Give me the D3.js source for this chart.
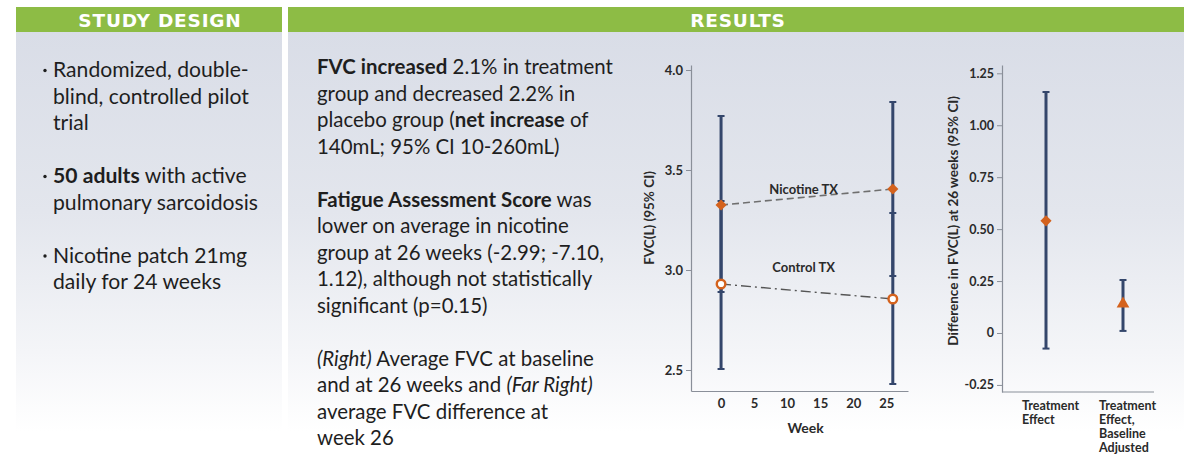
<!DOCTYPE html>
<html><head><meta charset="utf-8">
<script src="https://cdn.jsdelivr.net/npm/d3@7"></script>
<style>
html,body{margin:0;padding:0;background:#fff;}
svg{display:block;}
</style></head>
<body>
<svg id="c" width="1184" height="454"></svg>
<script>
// ---------- DATA ----------
const headers = ["STUDY DESIGN", "RESULTS"];
const designBullets = [
  [[["Randomized, double-", "n"]], [["blind, controlled pilot", "n"]], [["trial", "n"]]],
  [[["50 adults", "b"], [" with active", "n"]], [["pulmonary sarcoidosis", "n"]]],
  [[["Nicotine patch 21mg", "n"]], [["daily for 24 weeks", "n"]]]
];
const resultParas = [
  [[["FVC increased", "b"], [" 2.1% in treatment", "n"]],
   [["group and decreased 2.2% in", "n"]],
   [["placebo group (", "n"], ["net increase", "b"], [" of", "n"]],
   [["140mL; 95% CI 10-260mL)", "n"]]],
  [[["Fatigue Assessment Score", "b"], [" was", "n"]],
   [["lower on average in nicotine", "n"]],
   [["group at 26 weeks (-2.99; -7.10,", "n"]],
   [["1.12), although not statistically", "n"]],
   [["significant (p=0.15)", "n"]]],
  [[["(Right)", "i"], [" Average FVC at baseline", "n"]],
   [["and at 26 weeks and ", "n"], ["(Far Right)", "i"]],
   [["average FVC difference at", "n"]],
   [["week 26", "n"]]]
];

const weeks = [0, 26];
const nicotineMean = [3.325, 3.405];
const nicotineLo = [2.89, 2.97];
const nicotineHi = [3.77, 3.84];
const controlMean = [2.93, 2.855];
const controlLo = [2.505, 2.43];
const controlHi = [3.345, 3.285];
const seriesNames = ["Nicotine TX", "Control TX"];
const fvcTicks = [2.5, 3.0, 3.5, 4.0];
const fvcTickLabels = ["2.5", "3.0", "3.5", "4.0"];
const weekTicks = [0, 5, 10, 15, 20, 25];
const fvcYTitle = "FVC(L) (95% CI)";
const fvcXTitle = "Week";

const diffCats = ["Treatment Effect", "Treatment Effect, Baseline Adjusted"];
const diffCatLines = [["Treatment", "Effect"], ["Treatment", "Effect,", "Baseline", "Adjusted"]];
const diffMean = [0.54, 0.14];
const diffLo = [-0.075, 0.01];
const diffHi = [1.16, 0.255];
const diffTicks = [-0.25, 0, 0.25, 0.5, 0.75, 1.0, 1.25];
const diffTickLabels = ["-0.25", "0", "0.25", "0.50", "0.75", "1.00", "1.25"];
const diffYTitle = "Difference in FVC(L) at 26 weeks (95% CI)";

// ---------- STYLE ----------
const GREEN = "#8dbc45";
const NAVY = "#34466b";
const ORANGE = "#d4621d";
const TEXT = "#1e1e1e";
const AXIS = "#8a8f99";
const LBL = "#2a2a2a";
const bodyFont = "Lato, 'Open Sans', sans-serif";
const chartFont = "Lato, 'Open Sans', sans-serif";

const svg = d3.select("#c");
const defs = svg.append("defs");
const grad = defs.append("linearGradient").attr("id", "bg").attr("x1", 0).attr("y1", 0).attr("x2", 0).attr("y2", 1);
grad.append("stop").attr("offset", "0%").attr("stop-color", "#d9dde7");
grad.append("stop").attr("offset", "45%").attr("stop-color", "#e3e6ed");
grad.append("stop").attr("offset", "80%").attr("stop-color", "#f4f5f8");
grad.append("stop").attr("offset", "100%").attr("stop-color", "#ffffff");

// panels
const panels = [{x0: 16, x1: 282, tc: 160}, {x0: 288, x1: 1184, tc: 738}];
panels.forEach((p, i) => {
  svg.append("rect").attr("x", p.x0).attr("y", 32).attr("width", p.x1 - p.x0).attr("height", 400).attr("fill", "url(#bg)");
  svg.append("rect").attr("x", p.x0).attr("y", 7).attr("width", p.x1 - p.x0).attr("height", 25).attr("fill", GREEN);
  svg.append("text").attr("x", p.tc).attr("y", 26.5).attr("text-anchor", "middle")
    .attr("font-family", "'DejaVu Sans', Verdana, sans-serif").attr("font-weight", "bold")
    .attr("font-size", 18.5).attr("letter-spacing", 0.8).attr("fill", "#fff").text(headers[i]);
});

// ---------- TEXT BLOCKS ----------
function writeLine(g, x, y, segs, fs) {
  const t = g.append("text").attr("x", x).attr("y", y).attr("font-family", bodyFont)
    .attr("font-size", fs).attr("fill", TEXT).attr("xml:space", "preserve");
  segs.forEach(s => {
    t.append("tspan").attr("font-weight", s[1] === "b" ? "bold" : "normal")
      .attr("font-style", s[1] === "i" ? "italic" : "normal").text(s[0]);
  });
  return t;
}
function fitSize(segs, target, base) {
  const t = writeLine(svg, 0, -100, segs, base);
  const w = t.node().getComputedTextLength();
  t.remove();
  return base * target / w;
}
const lh = 26.5;
const fsLeft = fitSize(designBullets[1][1], 205, 20);
const fsMid = fitSize(resultParas[0][0], 296, 20);

const gl = svg.append("g");
let line = 0;
designBullets.forEach(b => {
  b.forEach((ln, j) => {
    const y = 77 + line * lh;
    if (j === 0) gl.append("circle").attr("cx", 45).attr("cy", y - 6.5).attr("r", 1.7).attr("fill", TEXT);
    writeLine(gl, 53, y, ln, fsLeft);
    line++;
  });
  line++;
});
const gm = svg.append("g");
line = 0;
resultParas.forEach(p => {
  p.forEach(ln => { writeLine(gm, 317, 74 + line * lh, ln, fsMid); line++; });
  line++;
});

// ---------- CHART 1 ----------
const c1 = {l: 691, r: 908, t: 65, b: 391};
const x1 = d3.scaleLinear().domain([-4.55, 28.3]).range([c1.l, c1.r]);
const y1 = d3.scaleLinear().domain([2.395, 4.025]).range([c1.b, c1.t]);
const g1 = svg.append("g");

function styleAxis(g, fs) {
  g.attr("font-size", null).attr("font-family", null);
  g.selectAll("path").attr("stroke", AXIS).attr("stroke-width", 1.2);
  g.selectAll("line").attr("stroke", AXIS).attr("stroke-width", 1);
  g.selectAll("text").attr("font-family", chartFont).attr("font-weight", "bold").attr("fill", LBL).attr("font-size", fs);
}
const ax1y = g1.append("g").attr("transform", `translate(${c1.l},0)`)
  .call(d3.axisLeft(y1).tickValues(fvcTicks).tickFormat((d, i) => fvcTickLabels[i]).tickSize(5).tickSizeOuter(0).tickPadding(3));
styleAxis(ax1y, 13);
const ax1x = g1.append("g").attr("transform", `translate(0,${c1.b})`)
  .call(d3.axisBottom(x1).tickValues(weekTicks).tickFormat(d3.format("d")).tickSize(0).tickSizeOuter(0).tickPadding(8));
styleAxis(ax1x, 13);
g1.append("text").attr("x", d3.mean(weekTicks.map(x1)) + 2).attr("y", 433).attr("text-anchor", "middle")
  .attr("font-family", chartFont).attr("font-weight", "bold").attr("font-size", 14).attr("fill", LBL).text(fvcXTitle);
g1.append("text").attr("transform", `translate(654,${y1(3.26)}) rotate(-90)`).attr("text-anchor", "middle")
  .attr("font-family", chartFont).attr("font-weight", "bold").attr("font-size", 13.5).attr("fill", LBL).text(fvcYTitle);

function errBar(g, x, lo, hi, cap) {
  g.append("line").attr("x1", x).attr("x2", x).attr("y1", lo).attr("y2", hi).attr("stroke", NAVY).attr("stroke-width", 3);
  [lo, hi].forEach(yy => g.append("line").attr("x1", x - cap).attr("x2", x + cap).attr("y1", yy).attr("y2", yy)
    .attr("stroke", NAVY).attr("stroke-width", 2));
}
weeks.forEach((w, i) => {
  errBar(g1, x1(w), y1(nicotineLo[i]), y1(nicotineHi[i]), 3.5);
  errBar(g1, x1(w), y1(controlLo[i]), y1(controlHi[i]), 3.5);
});
const lineGen = d3.line().x(d => x1(d[0])).y(d => y1(d[1]));
g1.append("path").datum(weeks.map((w, i) => [w, nicotineMean[i]])).attr("d", lineGen)
  .attr("fill", "none").attr("stroke", "#6f6f6f").attr("stroke-width", 1.6).attr("stroke-dasharray", "7,4");
g1.append("path").datum(weeks.map((w, i) => [w, controlMean[i]])).attr("d", lineGen)
  .attr("fill", "none").attr("stroke", "#555").attr("stroke-width", 1.4).attr("stroke-dasharray", "10,4,2,4");

const diamond = d3.symbol().type(d3.symbolSquare).size(62);
weeks.forEach((w, i) => {
  g1.append("path").attr("d", diamond()).attr("transform", `translate(${x1(w)},${y1(nicotineMean[i])}) rotate(45)`)
    .attr("fill", ORANGE);
  g1.append("circle").attr("cx", x1(w)).attr("cy", y1(controlMean[i])).attr("r", 4.3)
    .attr("fill", "#fff").attr("stroke", ORANGE).attr("stroke-width", 2.4);
});
g1.append("text").attr("x", x1(12.5)).attr("y", y1(3.38)).attr("text-anchor", "middle")
  .attr("font-family", chartFont).attr("font-weight", "bold").attr("font-size", 13).attr("fill", LBL).text(seriesNames[0]);
g1.append("text").attr("x", x1(12.5)).attr("y", y1(2.99)).attr("text-anchor", "middle")
  .attr("font-family", chartFont).attr("font-weight", "bold").attr("font-size", 13).attr("fill", LBL).text(seriesNames[1]);

// ---------- CHART 2 ----------
const c2 = {l: 1002, r: 1154, t: 65, b: 392};
const x2 = d3.scalePoint().domain(diffCats).range([c2.l + 44, c2.r - 31]);
const y2 = d3.scaleLinear().domain([-0.284, 1.29]).range([c2.b, c2.t]);
const g2 = svg.append("g");
const ax2y = g2.append("g").attr("transform", `translate(${c2.l},0)`)
  .call(d3.axisLeft(y2).tickValues(diffTicks).tickFormat((d, i) => diffTickLabels[i]).tickSize(5).tickSizeOuter(0).tickPadding(3));
styleAxis(ax2y, 12.5);
g2.append("line").attr("x1", c2.l).attr("x2", c2.r).attr("y1", c2.b).attr("y2", c2.b).attr("stroke", AXIS).attr("stroke-width", 1.2);
diffCats.forEach((c, i) => {
  const t = g2.append("text").attr("font-family", chartFont).attr("font-weight", "bold").attr("font-size", 12.5).attr("fill", LBL);
  diffCatLines[i].forEach((s, j) => t.append("tspan").attr("x", x2(c) - 24).attr("y", 410 + j * 14).text(s));
});
g2.append("text").attr("transform", `translate(958,${y2(0.54)}) rotate(-90)`).attr("text-anchor", "middle")
  .attr("font-family", chartFont).attr("font-weight", "bold").attr("font-size", 13.5).attr("fill", LBL).text(diffYTitle);
diffCats.forEach((c, i) => errBar(g2, x2(c), y2(diffLo[i]), y2(diffHi[i]), 3.5));
g2.append("path").attr("d", diamond()).attr("transform", `translate(${x2(diffCats[0])},${y2(diffMean[0])}) rotate(45)`).attr("fill", ORANGE);
g2.append("path").attr("d", d3.symbol().type(d3.symbolTriangle).size(70)()).attr("transform", `translate(${x2(diffCats[1])},${y2(diffMean[1])})`).attr("fill", ORANGE);
</script>
</body></html>
